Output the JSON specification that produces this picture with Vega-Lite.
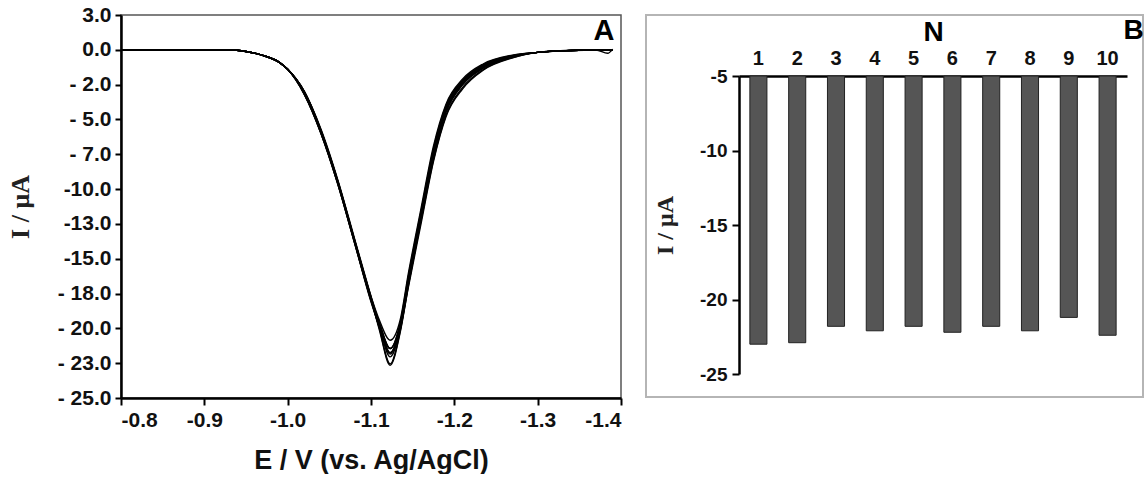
{
  "$schema": "https://vega.github.io/schema/vega-lite/v6.json",
  "background": "white",
  "padding": {"left": 6, "top": 3, "right": 0, "bottom": 0},
  "autosize": {"type": "pad"},
  "bounds": "flush",
  "spacing": 25,
  "config": {
    "font": "Liberation Sans",
    "view": {"stroke": null},
    "axis": {"grid": false, "labelColor": "#111", "titleColor": "#111", "domainColor": "black", "tickColor": "black"}
  },
  "datasets": {
    "cv": [
      {"n":1,"E":-0.80,"I":0},{"n":1,"E":-0.93,"I":0},{"n":1,"E":-0.95,"I":-0.12},{"n":1,"E":-0.97,"I":-0.4},{"n":1,"E":-0.99,"I":-0.9},{"n":1,"E":-1.00,"I":-1.4},{"n":1,"E":-1.02,"I":-3.1},{"n":1,"E":-1.04,"I":-5.9},{"n":1,"E":-1.06,"I":-9.5},{"n":1,"E":-1.08,"I":-13.7},{"n":1,"E":-1.10,"I":-17.9},{"n":1,"E":-1.11,"I":-20.1},{"n":1,"E":-1.123,"I":-22.65},{"n":1,"E":-1.135,"I":-20.3},{"n":1,"E":-1.145,"I":-16.9},{"n":1,"E":-1.16,"I":-12.2},{"n":1,"E":-1.175,"I":-7.7},{"n":1,"E":-1.19,"I":-4.5},{"n":1,"E":-1.21,"I":-2.5},{"n":1,"E":-1.235,"I":-1.3},{"n":1,"E":-1.27,"I":-0.5},{"n":1,"E":-1.30,"I":-0.18},{"n":1,"E":-1.34,"I":-0.05},{"n":1,"E":-1.37,"I":-0.01},{"n":1,"E":-1.384,"I":-0.25},{"n":1,"E":-1.39,"I":0.05},
      {"n":2,"E":-0.80,"I":0},{"n":2,"E":-0.93,"I":0},{"n":2,"E":-0.95,"I":-0.12},{"n":2,"E":-0.97,"I":-0.4},{"n":2,"E":-0.99,"I":-0.9},{"n":2,"E":-1.00,"I":-1.4},{"n":2,"E":-1.02,"I":-3.0},{"n":2,"E":-1.04,"I":-5.8},{"n":2,"E":-1.06,"I":-9.4},{"n":2,"E":-1.08,"I":-13.6},{"n":2,"E":-1.10,"I":-17.8},{"n":2,"E":-1.11,"I":-20.0},{"n":2,"E":-1.123,"I":-22.55},{"n":2,"E":-1.135,"I":-20.2},{"n":2,"E":-1.145,"I":-16.7},{"n":2,"E":-1.16,"I":-12.0},{"n":2,"E":-1.175,"I":-7.5},{"n":2,"E":-1.19,"I":-4.3},{"n":2,"E":-1.21,"I":-2.4},{"n":2,"E":-1.235,"I":-1.25},{"n":2,"E":-1.27,"I":-0.48},{"n":2,"E":-1.30,"I":-0.18},{"n":2,"E":-1.34,"I":-0.05},{"n":2,"E":-1.39,"I":0},
      {"n":3,"E":-0.80,"I":0},{"n":3,"E":-0.93,"I":0},{"n":3,"E":-0.95,"I":-0.12},{"n":3,"E":-0.97,"I":-0.4},{"n":3,"E":-0.99,"I":-0.9},{"n":3,"E":-1.00,"I":-1.4},{"n":3,"E":-1.02,"I":-3.2},{"n":3,"E":-1.04,"I":-6.0},{"n":3,"E":-1.06,"I":-9.6},{"n":3,"E":-1.08,"I":-13.8},{"n":3,"E":-1.10,"I":-17.9},{"n":3,"E":-1.11,"I":-19.6},{"n":3,"E":-1.123,"I":-21.45},{"n":3,"E":-1.135,"I":-19.7},{"n":3,"E":-1.145,"I":-16.4},{"n":3,"E":-1.16,"I":-11.8},{"n":3,"E":-1.175,"I":-7.3},{"n":3,"E":-1.19,"I":-4.2},{"n":3,"E":-1.21,"I":-2.3},{"n":3,"E":-1.235,"I":-1.15},{"n":3,"E":-1.27,"I":-0.45},{"n":3,"E":-1.30,"I":-0.18},{"n":3,"E":-1.34,"I":-0.05},{"n":3,"E":-1.39,"I":0},
      {"n":4,"E":-0.80,"I":0},{"n":4,"E":-0.93,"I":0},{"n":4,"E":-0.95,"I":-0.12},{"n":4,"E":-0.97,"I":-0.4},{"n":4,"E":-0.99,"I":-0.9},{"n":4,"E":-1.00,"I":-1.4},{"n":4,"E":-1.02,"I":-3.1},{"n":4,"E":-1.04,"I":-5.9},{"n":4,"E":-1.06,"I":-9.5},{"n":4,"E":-1.08,"I":-13.7},{"n":4,"E":-1.10,"I":-18.0},{"n":4,"E":-1.11,"I":-19.8},{"n":4,"E":-1.123,"I":-21.75},{"n":4,"E":-1.135,"I":-19.9},{"n":4,"E":-1.145,"I":-16.6},{"n":4,"E":-1.16,"I":-12.1},{"n":4,"E":-1.175,"I":-7.6},{"n":4,"E":-1.19,"I":-4.4},{"n":4,"E":-1.21,"I":-2.5},{"n":4,"E":-1.235,"I":-1.3},{"n":4,"E":-1.27,"I":-0.5},{"n":4,"E":-1.30,"I":-0.18},{"n":4,"E":-1.34,"I":-0.05},{"n":4,"E":-1.39,"I":0},
      {"n":5,"E":-0.80,"I":0},{"n":5,"E":-0.93,"I":0},{"n":5,"E":-0.95,"I":-0.12},{"n":5,"E":-0.97,"I":-0.4},{"n":5,"E":-0.99,"I":-0.9},{"n":5,"E":-1.00,"I":-1.4},{"n":5,"E":-1.02,"I":-3.0},{"n":5,"E":-1.04,"I":-5.7},{"n":5,"E":-1.06,"I":-9.3},{"n":5,"E":-1.08,"I":-13.5},{"n":5,"E":-1.10,"I":-17.7},{"n":5,"E":-1.11,"I":-19.7},{"n":5,"E":-1.123,"I":-21.45},{"n":5,"E":-1.135,"I":-19.8},{"n":5,"E":-1.145,"I":-16.3},{"n":5,"E":-1.16,"I":-11.7},{"n":5,"E":-1.175,"I":-7.2},{"n":5,"E":-1.19,"I":-4.1},{"n":5,"E":-1.21,"I":-2.25},{"n":5,"E":-1.235,"I":-1.1},{"n":5,"E":-1.27,"I":-0.42},{"n":5,"E":-1.30,"I":-0.18},{"n":5,"E":-1.34,"I":-0.05},{"n":5,"E":-1.39,"I":0},
      {"n":6,"E":-0.80,"I":0},{"n":6,"E":-0.93,"I":0},{"n":6,"E":-0.95,"I":-0.12},{"n":6,"E":-0.97,"I":-0.4},{"n":6,"E":-0.99,"I":-0.9},{"n":6,"E":-1.00,"I":-1.4},{"n":6,"E":-1.02,"I":-3.2},{"n":6,"E":-1.04,"I":-6.0},{"n":6,"E":-1.06,"I":-9.6},{"n":6,"E":-1.08,"I":-13.8},{"n":6,"E":-1.10,"I":-18.0},{"n":6,"E":-1.11,"I":-19.9},{"n":6,"E":-1.123,"I":-21.85},{"n":6,"E":-1.135,"I":-20.0},{"n":6,"E":-1.145,"I":-16.8},{"n":6,"E":-1.16,"I":-12.3},{"n":6,"E":-1.175,"I":-7.9},{"n":6,"E":-1.19,"I":-4.7},{"n":6,"E":-1.21,"I":-2.7},{"n":6,"E":-1.235,"I":-1.4},{"n":6,"E":-1.27,"I":-0.55},{"n":6,"E":-1.30,"I":-0.18},{"n":6,"E":-1.34,"I":-0.05},{"n":6,"E":-1.39,"I":0},
      {"n":7,"E":-0.80,"I":0},{"n":7,"E":-0.93,"I":0},{"n":7,"E":-0.95,"I":-0.12},{"n":7,"E":-0.97,"I":-0.4},{"n":7,"E":-0.99,"I":-0.9},{"n":7,"E":-1.00,"I":-1.4},{"n":7,"E":-1.02,"I":-3.0},{"n":7,"E":-1.04,"I":-5.8},{"n":7,"E":-1.06,"I":-9.4},{"n":7,"E":-1.08,"I":-13.6},{"n":7,"E":-1.10,"I":-17.8},{"n":7,"E":-1.11,"I":-19.6},{"n":7,"E":-1.123,"I":-21.45},{"n":7,"E":-1.135,"I":-19.6},{"n":7,"E":-1.145,"I":-16.2},{"n":7,"E":-1.16,"I":-11.6},{"n":7,"E":-1.175,"I":-7.1},{"n":7,"E":-1.19,"I":-4.0},{"n":7,"E":-1.21,"I":-2.2},{"n":7,"E":-1.235,"I":-1.05},{"n":7,"E":-1.27,"I":-0.4},{"n":7,"E":-1.30,"I":-0.18},{"n":7,"E":-1.34,"I":-0.05},{"n":7,"E":-1.39,"I":0},
      {"n":8,"E":-0.80,"I":0},{"n":8,"E":-0.93,"I":0},{"n":8,"E":-0.95,"I":-0.12},{"n":8,"E":-0.97,"I":-0.4},{"n":8,"E":-0.99,"I":-0.9},{"n":8,"E":-1.00,"I":-1.4},{"n":8,"E":-1.02,"I":-3.1},{"n":8,"E":-1.04,"I":-5.9},{"n":8,"E":-1.06,"I":-9.5},{"n":8,"E":-1.08,"I":-13.7},{"n":8,"E":-1.10,"I":-17.9},{"n":8,"E":-1.11,"I":-19.8},{"n":8,"E":-1.123,"I":-21.75},{"n":8,"E":-1.135,"I":-19.9},{"n":8,"E":-1.145,"I":-16.5},{"n":8,"E":-1.16,"I":-11.9},{"n":8,"E":-1.175,"I":-7.4},{"n":8,"E":-1.19,"I":-4.3},{"n":8,"E":-1.21,"I":-2.4},{"n":8,"E":-1.235,"I":-1.2},{"n":8,"E":-1.27,"I":-0.46},{"n":8,"E":-1.30,"I":-0.18},{"n":8,"E":-1.34,"I":-0.05},{"n":8,"E":-1.39,"I":0},
      {"n":9,"E":-0.80,"I":0},{"n":9,"E":-0.93,"I":0},{"n":9,"E":-0.95,"I":-0.12},{"n":9,"E":-0.97,"I":-0.4},{"n":9,"E":-0.99,"I":-0.9},{"n":9,"E":-1.00,"I":-1.4},{"n":9,"E":-1.02,"I":-3.0},{"n":9,"E":-1.04,"I":-5.8},{"n":9,"E":-1.06,"I":-9.4},{"n":9,"E":-1.08,"I":-13.6},{"n":9,"E":-1.10,"I":-17.7},{"n":9,"E":-1.11,"I":-19.4},{"n":9,"E":-1.123,"I":-20.85},{"n":9,"E":-1.135,"I":-19.4},{"n":9,"E":-1.145,"I":-16.0},{"n":9,"E":-1.16,"I":-11.4},{"n":9,"E":-1.175,"I":-6.9},{"n":9,"E":-1.19,"I":-3.9},{"n":9,"E":-1.21,"I":-2.1},{"n":9,"E":-1.235,"I":-1.0},{"n":9,"E":-1.27,"I":-0.38},{"n":9,"E":-1.30,"I":-0.18},{"n":9,"E":-1.34,"I":-0.05},{"n":9,"E":-1.39,"I":0},
      {"n":10,"E":-0.80,"I":0},{"n":10,"E":-0.93,"I":0},{"n":10,"E":-0.95,"I":-0.12},{"n":10,"E":-0.97,"I":-0.4},{"n":10,"E":-0.99,"I":-0.9},{"n":10,"E":-1.00,"I":-1.4},{"n":10,"E":-1.02,"I":-3.2},{"n":10,"E":-1.04,"I":-6.0},{"n":10,"E":-1.06,"I":-9.6},{"n":10,"E":-1.08,"I":-13.8},{"n":10,"E":-1.10,"I":-18.1},{"n":10,"E":-1.11,"I":-19.9},{"n":10,"E":-1.123,"I":-22.05},{"n":10,"E":-1.135,"I":-20.1},{"n":10,"E":-1.145,"I":-17.0},{"n":10,"E":-1.16,"I":-12.5},{"n":10,"E":-1.175,"I":-8.0},{"n":10,"E":-1.19,"I":-4.8},{"n":10,"E":-1.21,"I":-2.8},{"n":10,"E":-1.235,"I":-1.45},{"n":10,"E":-1.27,"I":-0.58},{"n":10,"E":-1.30,"I":-0.18},{"n":10,"E":-1.34,"I":-0.05},{"n":10,"E":-1.39,"I":0}
    ],
    "bars": [
      {"N":1,"I":-23.0},{"N":2,"I":-22.9},{"N":3,"I":-21.8},{"N":4,"I":-22.1},{"N":5,"I":-21.8},
      {"N":6,"I":-22.2},{"N":7,"I":-21.8},{"N":8,"I":-22.1},{"N":9,"I":-21.2},{"N":10,"I":-22.4}
    ]
  },
  "hconcat": [
    {
      "width": 500,
      "height": 383,
      "view": {"stroke": "#555", "strokeWidth": 1.5},
      "layer": [
        {
          "data": {"name": "cv"},
          "mark": {"type": "line", "color": "black", "strokeWidth": 1.4, "interpolate": "monotone", "clip": true},
          "encoding": {
            "x": {
              "field": "E", "type": "quantitative",
              "scale": {"domain": [-1.4, -0.8], "reverse": true, "nice": false, "zero": false},
              "axis": {
                "values": [-0.8, -0.9, -1.0, -1.1, -1.2, -1.3, -1.4],
                "labelExpr": "replace(format(datum.value, '.1f'), '\u2212', '-')",
                "title": "E / V (vs. Ag/AgCl)",
                "titleFontSize": 27, "titleFontWeight": "bold", "titlePadding": 17, "titleColor": "#111",
                "labelFontSize": 21, "labelFontWeight": "bold", "labelPadding": 4,
                "domainWidth": 2.5, "tickWidth": 2, "tickSize": 7
              }
            },
            "y": {
              "field": "I", "type": "quantitative",
              "scale": {"domain": [-25, 2.5], "nice": false, "zero": false},
              "axis": {
                "values": [2.5, 0, -2.5, -5, -7.5, -10, -12.5, -15, -17.5, -20, -22.5, -25],
                "labelExpr": "['3.0','0.0','- 2.0','- 5.0','- 7.0','-10.0','-13.0','-15.0','- 18.0','- 20.0','- 23.0','- 25.0'][round((2.5 - datum.value) / 2.5)]",
                "title": "I / μA",
                "titleFont": "Liberation Serif", "titleFontSize": 26, "titleFontWeight": "bold", "titleColor": "#222", "titlePadding": 24,
                "labelFontSize": 21, "labelFontWeight": "bold", "labelPadding": 4, "labelOverlap": false,
                "domainWidth": 2.5, "tickWidth": 2, "tickSize": 6
              }
            },
            "detail": {"field": "n", "type": "nominal"}
          }
        },
        {
          "data": {"values": [{"label": "A"}]},
          "mark": {"type": "text", "align": "right", "baseline": "bottom", "fontSize": 29, "fontWeight": "bold", "font": "Liberation Sans", "color": "#000"},
          "encoding": {
            "x": {
              "datum": -1.392, "type": "quantitative",
              "axis": {
                "values": [-0.8, -0.9, -1.0, -1.1, -1.2, -1.3, -1.4],
                "labelExpr": "replace(format(datum.value, '.1f'), '\u2212', '-')",
                "title": "E / V (vs. Ag/AgCl)",
                "titleFontSize": 27, "titleFontWeight": "bold", "titlePadding": 17, "titleColor": "#111",
                "labelFontSize": 21, "labelFontWeight": "bold", "labelPadding": 4,
                "domainWidth": 2.5, "tickWidth": 2, "tickSize": 7
              }
            },
            "y": {
              "datum": 0.3, "type": "quantitative",
              "axis": {
                "values": [2.5, 0, -2.5, -5, -7.5, -10, -12.5, -15, -17.5, -20, -22.5, -25],
                "labelExpr": "['3.0','0.0','- 2.0','- 5.0','- 7.0','-10.0','-13.0','-15.0','- 18.0','- 20.0','- 23.0','- 25.0'][round((2.5 - datum.value) / 2.5)]",
                "title": "I / μA",
                "titleFont": "Liberation Serif", "titleFontSize": 26, "titleFontWeight": "bold", "titleColor": "#222", "titlePadding": 24,
                "labelFontSize": 21, "labelFontWeight": "bold", "labelPadding": 4, "labelOverlap": false,
                "domainWidth": 2.5, "tickWidth": 2, "tickSize": 6
              }
            },
            "text": {"field": "label"}
          }
        }
      ]
    },
    {
      "width": 497,
      "height": 382,
      "view": {"stroke": "#b5b5b5", "strokeWidth": 2},
      "layer": [
        {
          "data": {"name": "bars"},
          "mark": {"type": "bar", "color": "#555555", "stroke": "#222", "strokeWidth": 1},
          "encoding": {
            "x": {
              "field": "N", "type": "ordinal",
              "scale": {"range": [93, 481], "paddingInner": 0.56, "paddingOuter": 0.28},
              "axis": {
                "orient": "top", "offset": -61, "title": "N", "labelAngle": 0, "ticks": false,
                "domainWidth": 2.5, "labelFontSize": 20, "labelFontWeight": "bold", "labelPadding": 8,
                "titleFontSize": 28, "titleFontWeight": "bold", "titlePadding": 2, "titleColor": "#000"
              }
            },
            "y": {
              "field": "I", "type": "quantitative",
              "scale": {"domain": [-25, -5], "range": [359, 61], "nice": false, "zero": false},
              "axis": {
                "values": [-5, -10, -15, -20, -25],
                "labelExpr": "replace(format(datum.value, 'd'), '\u2212', '-')",
                "offset": -93,
                "title": "I / μA",
                "titleFont": "Liberation Serif", "titleFontSize": 24, "titleFontWeight": "bold", "titleColor": "#222", "titlePadding": 22,
                "labelFontSize": 19, "labelFontWeight": "bold", "labelPadding": 5,
                "domainWidth": 2.5, "tickWidth": 2, "tickSize": 7
              }
            },
            "y2": {"datum": -5}
          }
        },
        {
          "data": {"values": [{"label": "B"}]},
          "mark": {"type": "text", "align": "left", "baseline": "bottom", "dx": 16, "fontSize": 28, "fontWeight": "bold", "font": "Liberation Sans", "color": "#000"},
          "encoding": {
            "x": {"datum": 10, "type": "ordinal"},
            "y": {"datum": -2.9, "type": "quantitative"},
            "text": {"field": "label"}
          }
        }
      ]
    }
  ]
}
